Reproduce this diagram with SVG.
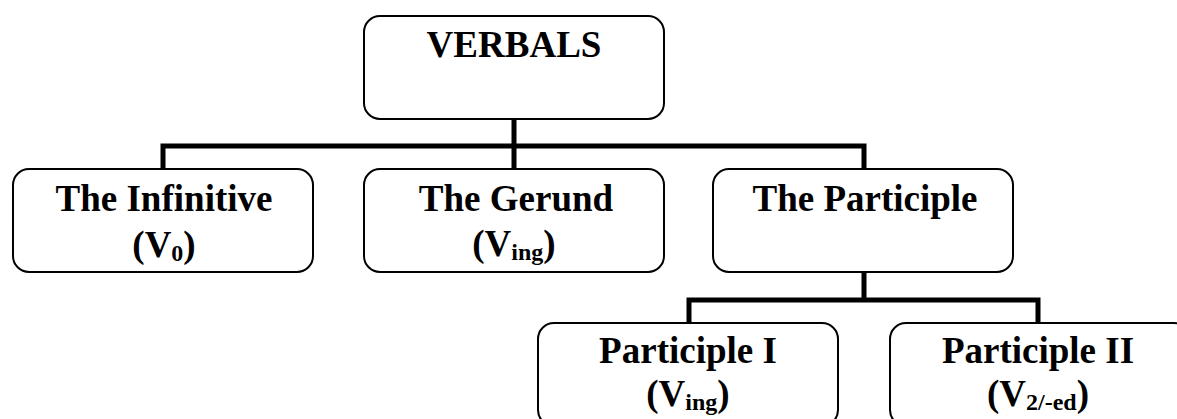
<svg xmlns="http://www.w3.org/2000/svg" width="1177" height="419" viewBox="0 0 1177 419">
<style>
.box{fill:#fff;stroke:#000;stroke-width:2}
.t{font-family:"Liberation Serif","Times New Roman",serif;font-weight:bold;font-size:37px;fill:#000;text-anchor:middle}
.sub{font-size:24px}
.conn{fill:none;stroke:#000;stroke-width:5;stroke-linejoin:miter;stroke-linecap:butt}
</style>
<rect width="1177" height="419" fill="#fff"/>
<g id="connectors">
<path class="conn" d="M514 119 V169"/>
<path class="conn" d="M163 169 V146 H864 V169"/>
<path class="conn" d="M864 272 V300"/>
<path class="conn" d="M689 323 V300 H1038 V323"/>
</g>
<g id="verbals">
<rect class="box" x="364" y="16" width="300" height="103" rx="16"/>
<text class="t" x="514" y="57">VERBALS</text>
</g>
<g id="infinitive">
<rect class="box" x="13" y="169" width="300" height="103" rx="16"/>
<text class="t" x="164" y="211">The Infinitive</text>
<text class="t" x="164" y="257">(V<tspan class="sub" dy="4">0</tspan><tspan dy="-4">)</tspan></text>
</g>
<g id="gerund">
<rect class="box" x="364" y="169" width="300" height="103" rx="16"/>
<text class="t" x="516" y="211">The Gerund</text>
<text class="t" x="514" y="256">(V<tspan class="sub" dy="4">ing</tspan><tspan dy="-4">)</tspan></text>
</g>
<g id="participle">
<rect class="box" x="713" y="169" width="300" height="103" rx="16"/>
<text class="t" x="865" y="211">The Participle</text>
</g>
<g id="participle1">
<rect class="box" x="538" y="323" width="300" height="103" rx="16"/>
<text class="t" x="688" y="363">Participle I</text>
<text class="t" x="688" y="406">(V<tspan class="sub" dy="4">ing</tspan><tspan dy="-4">)</tspan></text>
</g>
<g id="participle2">
<rect class="box" x="890" y="323" width="300" height="103" rx="16"/>
<text class="t" x="1038" y="363">Participle II</text>
<text class="t" x="1038" y="406">(V<tspan class="sub" dy="4">2/-ed</tspan><tspan dy="-4">)</tspan></text>
</g>
</svg>
